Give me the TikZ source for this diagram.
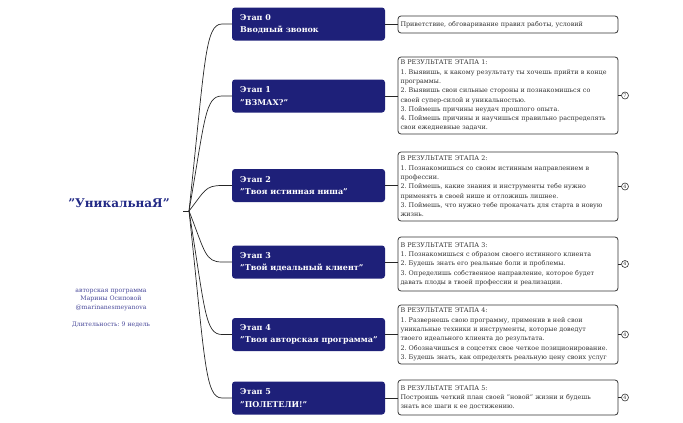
\documentclass[tikz,border=0pt]{standalone}
\usepackage{fontspec}
\setmainfont{DejaVu Serif}
\definecolor{navy}{HTML}{1E2079}
\definecolor{titleblue}{HTML}{232A86}
\definecolor{subblue}{HTML}{4B4B9B}
\definecolor{boxtext}{HTML}{333333}
\newcommand\qq{\char34\relax}
\frenchspacing
\begin{document}
\begin{tikzpicture}[x=1pt,y=-1pt,
 stagebox/.style={fill=navy, rounded corners=3pt, minimum width=153pt, minimum height=33pt, inner sep=0pt},
 stagetext/.style={anchor=west, inner sep=0pt, align=left, text=white, font=\fontsize{8}{12.5}\selectfont\bfseries},
 infobox/.style={draw=boxtext, line width=0.8pt, fill=white, rounded corners=3pt, minimum width=220pt, text width=215pt, inner sep=0pt, align=left, text=boxtext, font=\fontsize{6.4}{9.3}\selectfont},
 link/.style={draw=black!85, line width=0.7pt},
 badge/.style={circle, draw=boxtext, line width=0.6pt, minimum size=7pt, inner sep=0pt, font=\fontsize{4.8}{4.8}\selectfont, text=boxtext}]
\useasboundingbox (0,0) rectangle (683,423);

% title
\node[font=\fontsize{12}{14}\selectfont\bfseries, text=titleblue] (title) at (119,203) {\qq УникальнаЯ\qq};
\node[align=center, font=\fontsize{6.2}{8.4}\selectfont, text=subblue] (sub) at (111,308.5) {авторская программа\\Марины Осиповой\\@marinanesmeyanova\\[9pt]Длительность: 9 недель};

% stages
\node[stagebox] (s0) at (308.5,24) {};
\node[stagebox] (s1) at (308.5,96) {};
\node[stagebox] (s2) at (308.5,185.5) {};
\node[stagebox] (s3) at (308.5,262) {};
\node[stagebox] (s4) at (308.5,334.5) {};
\node[stagebox] (s5) at (308.5,398) {};
\node[stagetext] (t0) at (240,24) {Этап 0\\Вводный звонок};
\node[stagetext] (t1) at (240,96) {Этап 1\\\qq ВЗМАХ?\qq};
\node[stagetext] (t2) at (240,185.5) {Этап 2\\\qq Твоя истинная ниша\qq};
\node[stagetext] (t3) at (240,262) {Этап 3\\\qq Твой идеальный клиент\qq};
\node[stagetext] (t4) at (240,334.5) {Этап 4\\\qq Твоя авторская программа\qq};
\node[stagetext] (t5) at (240,398) {Этап 5\\\qq ПОЛЕТЕЛИ!\qq};

% info boxes
\node[infobox, minimum height=17pt] (b0) at (508,24.5) {Приветствие, обговаривание правил работы, условий};
\node[infobox, minimum height=77pt] (b1) at (508,95.5) {В РЕЗУЛЬТАТЕ ЭТАПА 1:\\1. Выявишь, к какому результату ты хочешь прийти в конце\\программы.\\2. Выявишь свои сильные стороны и познакомишься со\\своей супер-силой и уникальностью.\\3. Поймешь причины неудач прошлого опыта.\\4. Поймешь причины и научишься правильно распределять\\свои ежедневные задачи.};
\node[infobox, minimum height=69pt] (b2) at (508,186.5) {В РЕЗУЛЬТАТЕ ЭТАПА 2:\\1. Познакомишься со своим истинным направлением в\\профессии.\\2. Поймешь, какие знания и инструменты тебе нужно\\применять в своей нише и отложишь лишнее.\\3. Поймешь, что нужно тебе прокачать для старта в новую\\жизнь.};
\node[infobox, minimum height=54pt] (b3) at (508,264) {В РЕЗУЛЬТАТЕ ЭТАПА 3:\\1. Познакомишься с образом своего истинного клиента\\2. Будешь знать его реальные боли и проблемы.\\3. Определишь собственное направление, которое будет\\давать плоды в твоей профессии и реализации.};
\node[infobox, minimum height=59pt] (b4) at (508,334.5) {В РЕЗУЛЬТАТЕ ЭТАПА 4:\\1. Развернешь свою программу, применив в ней свои\\уникальные техники и инструменты, которые доведут\\твоего идеального клиента до результата.\\2. Обозначишься в соцсетях свое четкое позиционирование.\\3. Будешь знать, как определять реальную цену своих услуг};
\node[infobox, minimum height=35pt] (b5) at (508,397.5) {В РЕЗУЛЬТАТЕ ЭТАПА 5:\\Построишь четкий план своей \qq новой\qq{} жизни и будешь\\знать все шаги к ее достижению.};

% badges
\node[badge] (c1) at (625,95.5) {7};
\node[badge] (c2) at (625,186.5) {4};
\node[badge] (c3) at (625,264) {4};
\node[badge] (c4) at (625,334.5) {4};
\node[badge] (c5) at (625,397.5) {4};
\foreach \i in {1,...,5} {\draw[link] (b\i.east) -- (c\i.west);}

% stage to info
\foreach \i in {0,...,5} {\draw[link] (s\i.east) -- (s\i.east -| b\i.west);}

% root and branches
\coordinate (rootl) at (183,211);
\coordinate (root) at (189,211);
\draw[link] (rootl) -- (root);
\coordinate (k0) at (222,24);
\coordinate (k1) at (222,96);
\coordinate (k2) at (222,185.5);
\coordinate (k3) at (222,262);
\coordinate (k4) at (222,334.5);
\coordinate (k5) at (222,398);
\draw[link] (root) .. controls (205,61.4) and (205,24) .. (k0) -- (s0.west);
\draw[link] (root) .. controls (205,119) and (205,96) .. (k1) -- (s1.west);
\draw[link] (root) .. controls (205,190.6) and (205,185.5) .. (k2) -- (s2.west);
\draw[link] (root) .. controls (205,251.8) and (205,262) .. (k3) -- (s3.west);
\draw[link] (root) .. controls (205,309.8) and (205,334.5) .. (k4) -- (s4.west);
\draw[link] (root) .. controls (205,360.6) and (205,398) .. (k5) -- (s5.west);
\end{tikzpicture}
\end{document}
